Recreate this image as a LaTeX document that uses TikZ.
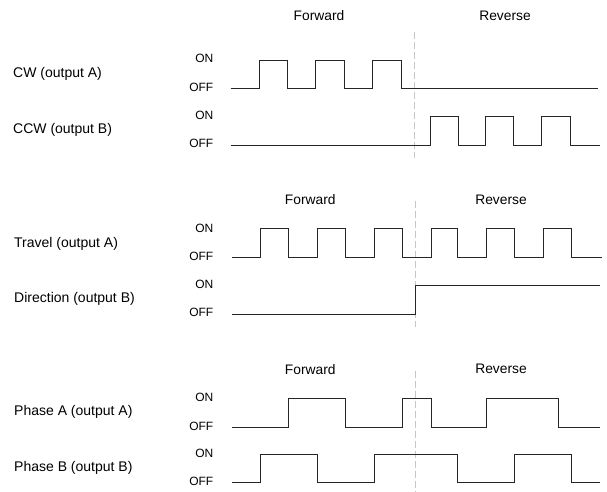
\documentclass[tikz,border=0pt]{standalone}
\usepackage{fontspec}
\setmainfont{Liberation Sans}
\begin{document}
\begin{tikzpicture}[x=1pt,y=-1pt,
  sig/.style={draw=black!85,line width=1pt,line join=miter},
  guide/.style={draw=black!22,line width=0.8pt,dash pattern=on 7pt off 3pt},
  lab/.style={anchor=west,inner sep=0pt,font=\fontsize{14}{16}\selectfont},
  lvl/.style={anchor=east,inner sep=0pt,font=\fontsize{12}{14}\selectfont},
  hdr/.style={anchor=center,inner sep=0pt,font=\fontsize{13.8}{16}\selectfont}]
\useasboundingbox (0,0) rectangle (607,492);

% ---------- Section 1 ----------
\node[hdr] (f1) at (319,16) {Forward};
\node[hdr] (r1) at (505,16) {Reverse};
\node[lab] (cw) at (13,74) {CW (output A)};
\node[lab] (ccw) at (13,130) {CCW (output B)};
\node[lvl] (on1a) at (213.5,58.7) {ON};
\node[lvl] (off1a) at (213.5,87.3) {OFF};
\node[lvl] (on1b) at (213.5,115.3) {ON};
\node[lvl] (off1b) at (213.5,143.3) {OFF};
\draw[guide] (414.3,31.7) -- (414.3,158);
\draw[sig] (230.7,88.3) -- (259.3,88.3) -- (259.3,60.3) -- (287.3,60.3) -- (287.3,88.3)
  -- (315.7,88.3) -- (315.7,60.3) -- (344.3,60.3) -- (344.3,88.3)
  -- (372.7,88.3) -- (372.7,60.3) -- (401.3,60.3) -- (401.3,88.3) -- (598,88.3);
\draw[sig] (230.7,145.3) -- (430,145.3) -- (430,117) -- (458.3,117) -- (458.3,145.3)
  -- (485,145.3) -- (485,117) -- (513.3,117) -- (513.3,145.3)
  -- (541.7,145.3) -- (541.7,117) -- (570.7,117) -- (570.7,145.3) -- (600,145.3);

% ---------- Section 2 ----------
\node[hdr] (f2) at (310.3,200) {Forward};
\node[hdr] (r2) at (501,200) {Reverse};
\node[lab] (trav) at (14,244) {Travel (output A)};
\node[lab] (dir) at (14,299.3) {Direction (output B)};
\node[lvl] (on2a) at (213.5,228.7) {ON};
\node[lvl] (off2a) at (213.5,256.7) {OFF};
\node[lvl] (on2b) at (213.5,284.3) {ON};
\node[lvl] (off2b) at (213.5,312.7) {OFF};
\draw[guide] (415.7,200.7) -- (415.7,326.7);
\draw[sig] (232.3,257.3) -- (260.3,257.3) -- (260.3,228.7) -- (288.7,228.7) -- (288.7,257.3)
  -- (317.3,257.3) -- (317.3,228.7) -- (345.7,228.7) -- (345.7,257.3)
  -- (374,257.3) -- (374,228.7) -- (402.3,228.7) -- (402.3,257.3)
  -- (431,257.3) -- (431,228.7) -- (457.7,228.7) -- (457.7,257.3)
  -- (486,257.3) -- (486,228.7) -- (514.3,228.7) -- (514.3,257.3)
  -- (543.3,257.3) -- (543.3,228.7) -- (571.3,228.7) -- (571.3,257.3) -- (601.7,257.3);
\draw[sig] (232.3,314) -- (415.7,314) -- (415.7,285.3) -- (600,285.3);

% ---------- Section 3 ----------
\node[hdr] (f3) at (310.3,369.3) {Forward};
\node[hdr] (r3) at (501,369.3) {Reverse};
\node[lab] (pa) at (14,412.3) {Phase A (output A)};
\node[lab] (pb) at (14,468.3) {Phase B (output B)};
\node[lvl] (on3a) at (213.5,397.7) {ON};
\node[lvl] (off3a) at (213.5,426) {OFF};
\node[lvl] (on3b) at (213.5,453.3) {ON};
\node[lvl] (off3b) at (213.5,481.7) {OFF};
\draw[guide] (415.7,370.7) -- (415.7,491);
\draw[sig] (232.3,427) -- (288.7,427) -- (288.7,398.7) -- (345.7,398.7) -- (345.7,427)
  -- (402.7,427) -- (402.7,398.7) -- (431,398.7) -- (431,427)
  -- (486,427) -- (486,398.7) -- (558,398.7) -- (558,427) -- (600,427);
\draw[sig] (232.3,482.7) -- (260.3,482.7) -- (260.3,454) -- (317.3,454) -- (317.3,482.7)
  -- (374,482.7) -- (374,454) -- (457.7,454) -- (457.7,482.7)
  -- (514.3,482.7) -- (514.3,454) -- (571.3,454) -- (571.3,482.7) -- (600,482.7);
\end{tikzpicture}
\end{document}
